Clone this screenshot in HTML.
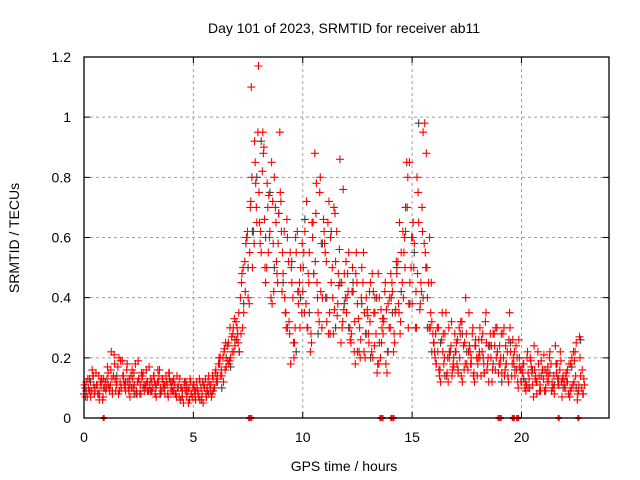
<!DOCTYPE html>
<html><head><meta charset="utf-8"><style>
body{margin:0;background:#fff;}
svg{display:block;font-family:"Liberation Sans",sans-serif;}
</style></head><body>
<svg id="chart" width="640" height="480" viewBox="0 0 640 480" xmlns="http://www.w3.org/2000/svg">
<rect width="640" height="480" fill="#fff"/>
<text x="344" y="33" font-size="14" text-anchor="middle">Day 101 of 2023, SRMTID for receiver ab11</text>
<text x="344" y="471" font-size="14" text-anchor="middle">GPS time / hours</text>
<text transform="translate(19,238) rotate(-90)" font-size="14" text-anchor="middle">SRMTID / TECUs</text>
<g id="grid"></g><g id="marks"></g><g id="axes"></g>
</svg>
<script>
const xTicks=[0,5,10,15,20];
const yTicks=[0,0.2,0.4,0.6,0.8,1,1.2];
const yTickLabels=["0","0.2","0.4","0.6","0.8","1","1.2"];
const redA=[.08,.12,.10,.07,.14,.09,.11,.06,.13,.10,.09,.15,.11,.08,.18,.12,.20,.10,.14,.09,.12,.07,.16,.11,.09,.13,.08,.15,.10,.12,.11,.09,.14,.07,.12,.10,.13,.08,.11,.15,.10,.13,.08,.11,.06,.09,.12,.07,.10,.08,.11,.06,.09,.12,.08,.10,.07,.14,.11,.13,.15,.12,.18,.14,.22,.17,.25,.20,.28,.24,.30,.22,.45,.35,.58,.40,.70,.50,.92,.65,.75,.55,.88,.45,.70,.62,.38,.80,.52,.68,.72,.48,.35,.60,.28,.45,.20,.55,.38,.50,.42,.62,.30,.55,.25,.48,.68,.35,.80,.40,.58,.32,.72,.45,.28,.52,.38,.86,.30,.48,.35,.55,.25,.42,.18,.38,.30,.50,.22,.40,.28,.45,.20,.35,.15,.40,.25,.32,.18,.38,.30,.42,.25,.48,.35,.55,.40,.62,.80,.45,.38,.58,.30,.65,.45,.95,.55,.40,.60,.32,.25,.18,.30,.12,.22,.28,.15,.20,.32,.17,.22,.15,.28,.12,.25,.18,.35,.20,.14,.26,.18,.30,.22,.15,.25,.12,.20,.28,.16,.22,.24,.15,.30,.18,.12,.22,.26,.14,.20,.17,.12,.18,.09,.15,.20,.11,.16,.08,.14,.19,.13,.10,.17,.22,.12,.08,.15,.11,.19,.14,.10,.16,.07,.20,.12,.25,.09,.14,.08];
const redB=[.10,.07,.13,.09,.11,.15,.08,.12,.06,.10,.13,.10,.22,.14,.09,.17,.12,.19,.11,.16,.09,.14,.10,.18,.12,.08,.13,.11,.16,.09,.13,.10,.08,.12,.16,.09,.11,.14,.07,.12,.09,.11,.14,.07,.10,.05,.12,.09,.13,.07,.09,.12,.07,.10,.05,.13,.09,.11,.08,.10,.12,.18,.14,.20,.16,.24,.19,.27,.22,.32,.25,.40,.30,.52,.60,.38,1.10,.62,.78,.95,.58,.82,.66,.50,.74,.40,.58,.70,.45,.95,.42,.62,.30,.52,.18,.40,.30,.62,.45,.35,.55,.38,.48,.22,.60,.88,.45,.32,.58,.66,.40,.65,.28,.50,.36,.62,.44,.25,.76,.40,.48,.30,.42,.22,.55,.33,.26,.45,.20,.36,.42,.22,.35,.28,.48,.20,.33,.42,.15,.30,.40,.22,.36,.52,.28,.45,.60,.85,.38,.50,.65,.30,.48,.36,.70,.58,.88,.45,.35,.28,.20,.30,.14,.26,.18,.35,.12,.22,.16,.28,.18,.30,.14,.24,.40,.16,.22,.28,.12,.20,.26,.14,.20,.32,.18,.24,.12,.28,.20,.15,.20,.28,.16,.22,.35,.14,.18,.24,.10,.16,.15,.10,.20,.13,.17,.07,.14,.22,.11,.16,.09,.15,.12,.18,.10,.24,.13,.16,.07,.12,.15,.08,.18,.11,.22,.06,.27,.10,.13];
const redC=[.11,.09,.14,.08,.12,.10,.16,.13,.09,.12,.10,.13,.08,.15,.11,.09,.12,.14,.10,.08,.12,.07,.10,.09,.06,.11,.08,.12,.10,.07,.16,.20,.23,.18,.30,.28,.48,.60,.72,.85,.65,.90,.55,.72,.48,.62,.35,.55,.25,.42,.50,.30,.65,.78,.42,.55,.35,.70,.48,.32,.40,.28,.48,.20,.35,.25,.42,.18,.30,.36,.48,.35,.65,.55,.30,.60,.80,.42,.50,.30,.22,.16,.28,.20,.14,.25,.32,.18,.24,.15,.20,.28,.16,.24,.30,.18,.14,.26,.20,.12,.16,.11,.19,.13,.09,.21,.14,.10,.18,.12,.14,.09,.19,.11,.08];
const redD=[.07,.13,.09,.16,.08,.11,.14,.10,.07,.12,.17,.09,.13,.21,.11,.08,.19,.14,.10,.18,.13,.10,.15,.08,.19,.11,.14,.09,.12,.17,.09,.14,.11,.16,.08,.13,.10,.12,.15,.09,.12,.08,.10,.13,.07,.11,.09,.05,.12,.10,.07,.10,.13,.06,.11,.08,.12,.09,.14,.10,.13,.20,.16,.12,.25,.19,.30,.22,.33,.26,.35,.28,.50,.42,.62,.55,.80,.58,.70,1.17,.62,.95,.50,.78,.60,.85,.42,.65,.58,.75,.55,.40,.66,.32,.50,.25,.60,.42,.30,.58,.35,.72,.45,.28,.65,.52,.40,.75,.30,.62,.52,.28,.60,.40,.68,.34,.56,.45,.36,.52,.42,.26,.50,.32,.45,.22,.40,.55,.28,.34,.32,.48,.24,.40,.18,.36,.28,.45,.22,.40,.45,.28,.52,.38,.32,.62,.50,.70,.85,.60,.50,.42,.75,.38,.62,.98,.50,.30,.45,.25,.28,.22,.16,.35,.20,.14,.30,.24,.18,.22,.26,.20,.32,.16,.28,.22,.18,.30,.24,.14,.22,.26,.18,.35,.20,.28,.16,.24,.30,.18,.28,.20,.24,.14,.30,.18,.22,.16,.26,.12,.18,.12,.22,.10,.15,.24,.12,.18,.09,.16,.16,.12,.20,.09,.14,.18,.11,.22,.13,.10,.12,.18,.10,.22,.14,.08,.20,.16,.11];
const blackA=[.09,.12,.10,.08,.13,.11,.09,.14,.10,.12,.11,.08,.13,.10,.09,.12,.10,.08,.11,.13,.09,.10,.07,.11,.08,.09,.06,.10,.08,.09,.14,.10,.20,.17,.26,.22,.38,.50,.62,.80,.92,.60,.75,.50,.68,.45,.30,.52,.22,.40,.66,.35,.48,.28,.58,.40,.62,.30,.45,.38,.30,.45,.22,.38,.28,.20,.40,.25,.33,.22,.35,.50,.42,.70,.38,.55,.98,.40,.30,.22,.18,.25,.14,.22,.20,.16,.28,.22,.18,.24,.20,.15,.24,.18,.22,.12,.18,.25,.16,.20,.13,.10,.16,.12,.14,.09,.15,.11,.13,.10,.12,.17,.10,.26];
const zeroTimes=[0.9,7.55,7.65,13.55,13.65,14.05,14.15,18.95,19.05,19.6,19.65,19.8,19.85,21.7,22.6];

const L=84,R=609,T=57,B=418,XMAX=24,YMAX=1.2;
const sx=t=>L+(R-L)*t/XMAX;
const sy=v=>B-(B-T)*v/YMAX;
const NS="http://www.w3.org/2000/svg";
const grid=document.getElementById('grid'),marks=document.getElementById('marks'),axes=document.getElementById('axes');
function mk(tag,attrs,parent){const e=document.createElementNS(NS,tag);for(const k in attrs)e.setAttribute(k,attrs[k]);parent.appendChild(e);return e;}

xTicks.forEach(t=>{
  if(t>0){const g=mk('line',{x1:sx(t),x2:sx(t),y1:T,y2:B,stroke:'#a0a0a0','stroke-dasharray':'3,3','stroke-width':1},grid);
  
  }
  const tk=mk('path',{d:`M${sx(t)},${B}v-6M${sx(t)},${T}v6`,stroke:'#000'},axes);
  
  
  const lb=mk('text',{x:sx(t),y:B+24,'font-size':14,'text-anchor':'middle'},axes);
  lb.textContent=String(t);
  
  
});
yTicks.forEach((v,i)=>{
  if(v>0&&v<YMAX){const g=mk('line',{x1:L,x2:R,y1:sy(v),y2:sy(v),stroke:'#a0a0a0','stroke-dasharray':'3,3','stroke-width':1},grid);
  
  }
  const tk=mk('path',{d:`M${L},${sy(v)}h6M${R},${sy(v)}h-6`,stroke:'#000'},axes);
  
  
  const lb=mk('text',{x:L-13,y:sy(v)+5,'font-size':14,'text-anchor':'end'},axes);
  lb.textContent=yTickLabels[i];
  
  
});
const frame=mk('rect',{x:L,y:T,width:R-L,height:B-T,fill:'none',stroke:'#000','stroke-width':1.3},axes);



function plot(vals,t0,dt,color,name){
  let d='';
  vals.forEach((v,i)=>{const x=sx(t0+i*dt),y=sy(v);d+=`M${(x-4).toFixed(1)},${y.toFixed(1)}h8M${x.toFixed(1)},${(y-4).toFixed(1)}v8`;});
  const p=mk('path',{d:d,stroke:color,'stroke-width':1.1,fill:'none'},marks);
  
  
}
plot(blackA,0.1,0.2,'#404040','black-series-points');
plot(redA,0,0.1,'#ff0000','red-series-a-points');
plot(redB,0.05,0.1,'#ff0000','red-series-b-points');
plot(redC,0.025,0.2,'#ff0000','red-series-c-points');
plot(redD,0.075,0.1,'#ff0000','red-series-d-points');
let zd='';
zeroTimes.forEach(t=>{const x=sx(t);zd+=`M${x-3},${B}h6M${x},${B-3}v6`;});
const zp=mk('path',{d:zd,stroke:'#ff0000','stroke-width':2,fill:'none'},marks);


</script>
</body></html>
